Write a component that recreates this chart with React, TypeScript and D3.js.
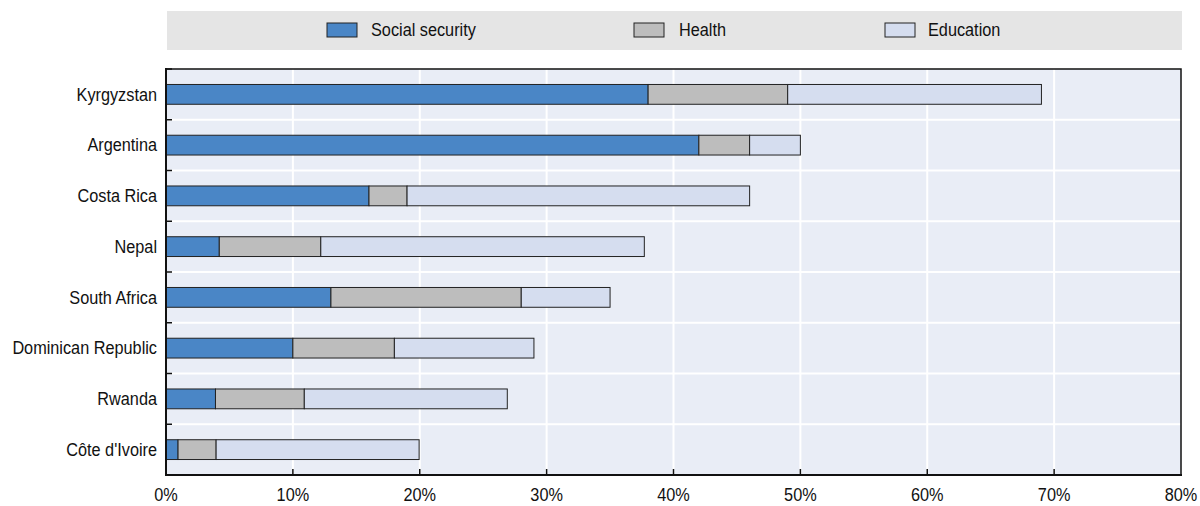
import React from "react";
import * as d3 from "d3";

const countries = ["Kyrgyzstan", "Argentina", "Costa Rica", "Nepal", "South Africa", "Dominican Republic", "Rwanda", "Côte d'Ivoire"];
const socialSecurity = [38, 42, 16, 4.2, 13, 10, 3.9, 0.95];
const health = [11, 4, 3, 8, 15, 8, 7, 3];
const education = [20, 4, 27, 25.5, 7, 11, 16, 16];
const seriesNames = ["Social security", "Health", "Education"];
const seriesColors = ["#4a86c6", "#bdbdbd", "#d5ddef"];
const xTicks = [0, 10, 20, 30, 40, 50, 60, 70, 80];

const FONT = "'Liberation Sans', Arial, sans-serif";
const FS = 18.5;
const SX = 0.88;

function NText({ x, y, anchor = "start", children }: { x: number; y: number; anchor?: string; children: any }) {
  return (
    <g transform={`translate(${x},${y}) scale(${SX},1)`}>
      <text x={0} y={0} textAnchor={anchor as any} dominantBaseline="central" fontSize={FS} fill="#111">{children}</text>
    </g>
  );
}

export default function App() {
  const W = 1200, H = 506;
  const left = 166, right = 1181, top = 69, bottom = 475;
  const x = d3.scaleLinear().domain([0, 80]).range([left, right]);
  const y = d3.scaleBand().domain(countries).range([top, bottom]).paddingInner(0.61).paddingOuter(0.305);
  const band = (bottom - top) / countries.length;

  const rows = countries.map((c, i) => ({ c, vals: [socialSecurity[i], health[i], education[i]] }));
  const stacked = d3.stack<any>().keys(["0", "1", "2"]).value((d: any, k: string) => d.vals[+k])(rows as any);

  const legendItems = [
    { sx: 327, tx: 371 },
    { sx: 634, tx: 679 },
    { sx: 885, tx: 928 },
  ];

  return (
    <svg width={W} height={H} style={{ position: "absolute", left: 0, top: 0 }} fontFamily={FONT}>
      <rect x={0} y={0} width={W} height={H} fill="#fff" />
      {/* legend */}
      <rect x={167} y={11} width={1015} height={39} fill="#e5e5e5" />
      {seriesNames.map((s, i) => (
        <g key={s}>
          <rect x={legendItems[i].sx} y={23} width={30} height={14} fill={seriesColors[i]} stroke="#222" strokeWidth={1} />
          <NText x={legendItems[i].tx} y={30}>{s}</NText>
        </g>
      ))}
      {/* plot background */}
      <rect x={left} y={top} width={right - left} height={bottom - top} fill="#e9edf6" />
      {xTicks.slice(1, -1).map((t) => (
        <line key={t} x1={x(t)} x2={x(t)} y1={top} y2={bottom} stroke="#fff" strokeWidth={2} />
      ))}
      {countries.slice(1).map((c, i) => (
        <line key={c} x1={left} x2={right} y1={top + band * (i + 1)} y2={top + band * (i + 1)} stroke="#fff" strokeWidth={2} />
      ))}
      {/* bars */}
      {stacked.map((layer: any, si: number) =>
        layer.map((d: any, i: number) => (
          <rect
            key={si + "-" + i}
            x={x(d[0])}
            y={y(countries[i])}
            width={x(d[1]) - x(d[0])}
            height={y.bandwidth()}
            fill={seriesColors[si]}
            stroke="#222"
            strokeWidth={1}
          />
        ))
      )}
      {/* frame */}
      <rect x={left} y={top} width={right - left} height={bottom - top} fill="none" stroke="#111" strokeWidth={1.5} />
      <line x1={left} x2={left} y1={top - 1} y2={bottom + 1} stroke="#111" strokeWidth={2} />
      <line x1={left - 1} x2={right + 1} y1={bottom} y2={bottom} stroke="#111" strokeWidth={2} />
      {/* y ticks */}
      {countries.map((c, i) => (
        <line key={c} x1={left} x2={left + 6} y1={top + band * i} y2={top + band * i} stroke="#111" strokeWidth={1.5} />
      ))}
      {/* x ticks */}
      {xTicks.slice(1, -1).map((t) => (
        <line key={t} x1={x(t)} x2={x(t)} y1={bottom} y2={bottom - 6} stroke="#111" strokeWidth={1.5} />
      ))}
      {xTicks.map((t) => (
        <NText key={t} x={x(t)} y={495} anchor="middle">{t}%</NText>
      ))}
      {countries.map((c) => (
        <NText key={c} x={157} y={(y(c) as number) + y.bandwidth() / 2} anchor="end">{c}</NText>
      ))}
    </svg>
  );
}
